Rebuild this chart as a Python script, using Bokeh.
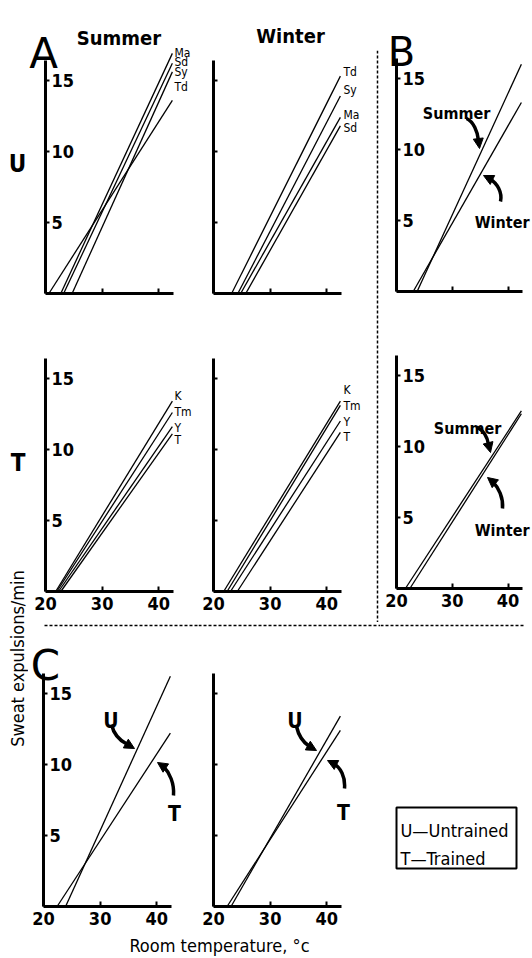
import math
from bokeh.plotting import figure
from bokeh.models import (Range1d, LinearAxis, FixedTicker, Label, LabelSet,
                          ColumnDataSource, Span, Arrow, NormalHead, BoxAnnotation)
from bokeh.layouts import row, column
from bokeh.core.properties import value
from bokeh.embed import file_html
from bokeh.resources import INLINE

# ---------------- data ----------------
x_ticks = [20, 30, 40]
y_ticks = [5, 10, 15]
X_END = 42.4

summer_u_names = ["Ma", "Sd", "Sy", "Td"]
summer_u_start = [22.7, 23.2, 24.7, 20.6]
summer_u_end = [16.9, 16.2, 15.6, 13.6]

winter_u_names = ["Td", "Sy", "Ma", "Sd"]
winter_u_start = [23.2, 24.3, 24.8, 25.7]
winter_u_end = [15.3, 13.9, 12.4, 11.8]

summer_t_names = ["K", "Tm", "Y", "T"]
summer_t_start = [21.8, 22.0, 22.3, 22.7]
summer_t_end = [13.4, 12.6, 11.6, 11.1]

winter_t_names = ["K", "Tm", "Y", "T"]
winter_t_start = [21.8, 22.4, 23.0, 24.2]
winter_t_end = [13.4, 13.1, 12.0, 11.2]

season_names = ["Summer", "Winter"]
b_u_start = [23.7, 23.0]
b_u_end = [16.0, 13.3]
b_t_start = [21.6, 22.4]
b_t_end = [12.5, 12.3]

group_names = ["U", "T"]
c_summer_start = [23.9, 22.4]
c_summer_end = [16.2, 12.2]
c_winter_start = [23.1, 22.4]
c_winter_end = [13.4, 12.4]

# name-label anchor heights (layout)
lab_su = [16.96, 16.26, 15.56, 14.5]
lab_wu = [15.56, 14.29, 12.53, 11.68]
lab_st = [13.73, 12.6, 11.54, 10.63]
lab_wt = [14.15, 13.09, 11.9, 10.84]

# ---------------- styling helpers ----------------
FONT = "'DejaVu Sans Condensed', 'Liberation Sans', sans-serif"
BIG = "DejaVu Sans"
XR = (20, 42.6)
YR = (0, 16.4)
FH = 233
SY = FH / (YR[1] - YR[0])
DASH = "3 2"


def plain_fig(w, h, bt=0):
    p = figure(width=w, height=h, x_range=Range1d(0, 1), y_range=Range1d(0, 1),
               x_axis_location=None, y_axis_location=None, toolbar_location=None,
               output_backend="svg", min_border=0, min_border_top=bt)
    p.outline_line_color = None
    p.xgrid.visible = False
    p.ygrid.visible = False
    return p


def panel(g, xlabels, ylabels):
    sx = g["fw"] / (XR[1] - XR[0])
    x0 = XR[0] - (g["fl"] - g["cl"]) / sx
    y0 = -(g["ct"] + g["h"] - g["fb"]) / SY
    p = figure(width=g["w"], height=g["h"],
               x_range=Range1d(x0, x0 + g["w"] / sx),
               y_range=Range1d(y0, y0 + g["h"] / SY),
               x_axis_location=None, y_axis_location=None, toolbar_location=None,
               output_backend="svg", min_border=0)
    p.outline_line_color = None
    p.xgrid.visible = False
    p.ygrid.visible = False
    xa = LinearAxis(fixed_location=0, bounds=XR, ticker=FixedTicker(ticks=x_ticks))
    xa.axis_line_width = 3
    xa.major_tick_in = 5
    xa.major_tick_out = 0
    xa.major_tick_line_width = 2
    xa.minor_tick_line_color = None
    xa.major_label_standoff = 5
    xa.major_label_text_font = FONT
    xa.major_label_text_font_size = "18px"
    xa.major_label_text_font_style = "bold"
    xa.major_label_text_color = "black" if xlabels else None
    p.add_layout(xa, "below")
    ya = LinearAxis(fixed_location=XR[0], bounds=YR, ticker=FixedTicker(ticks=y_ticks))
    ya.axis_line_width = 3
    ya.major_tick_in = 0
    ya.major_tick_out = 4
    ya.major_tick_line_width = 2
    ya.minor_tick_line_color = None
    ya.major_label_standoff = 2
    ya.major_label_text_font = FONT
    ya.major_label_text_font_size = "18px"
    ya.major_label_text_font_style = "bold"
    ya.major_label_text_color = "black" if ylabels else None
    p.add_layout(ya, "right")
    return p


def to_data(g, px, py):
    sx = g["fw"] / (XR[1] - XR[0])
    return XR[0] + (px - g["fl"]) / sx, (g["fb"] - py) / SY


def add_lines(p, starts, ends):
    n = len(starts)
    src = ColumnDataSource(dict(x0=starts, y0=[0] * n, x1=[X_END] * n, y1=ends))
    p.segment(x0="x0", y0="y0", x1="x1", y1="y1", source=src,
              line_color="black", line_width=1.3)


def add_names(p, names, ys, xoff):
    src = ColumnDataSource(dict(x=[XR[1]] * len(names), y=ys, t=names))
    p.add_layout(LabelSet(x="x", y="y", text="t", source=src, x_offset=xoff,
                          text_font=value(FONT), text_font_size=value("12px"),
                          text_align="left", text_baseline="middle",
                          text_color=value("black")))


def lab(p, g, text, px, py, size, align="center", font=FONT, style="bold"):
    x, y = to_data(g, px, py)
    p.add_layout(Label(x=x, y=y, text=text, text_font=font, text_font_size=size,
                       text_font_style=style, text_align=align,
                       text_baseline="alphabetic", text_color="black"))


def slab(p, cl, cb, text, px, py, size, align="center", style="normal", angle=0,
         baseline="alphabetic"):
    p.add_layout(Label(x=px - cl, y=cb - py, x_units="screen", y_units="screen",
                       text=text, text_font=FONT, text_font_size=size,
                       text_font_style=style, text_align=align,
                       text_baseline=baseline, angle=angle, text_color="black"))


def curved_arrow(p, g, pts, tip):
    (x0, y0), (a0, b0), (a1, b1), (x1, y1) = [to_data(g, q[0], q[1]) for q in pts]
    tx, ty = to_data(g, tip[0], tip[1])
    p.bezier(x0=[x0], y0=[y0], x1=[x1], y1=[y1], cx0=[a0], cy0=[b0], cx1=[a1], cy1=[b1],
             line_color="black", line_width=3.5)
    p.add_layout(Arrow(x_start=x1, y_start=y1, x_end=tx, y_end=ty, line_width=3.5,
                       line_color="black",
                       end=NormalHead(size=10, fill_color="black", line_color="black",
                                      line_width=1)))


def hdash(p, g, px0, px1, py):
    xa, ya = to_data(g, px0, py)
    xb, _ = to_data(g, px1, py)
    p.segment(x0=[xa], y0=[ya], x1=[xb], y1=[ya], line_color="black",
              line_width=1.5, line_dash=DASH)


def geom(cl, ct, w, h, fl, fb, fw=128):
    return dict(cl=cl, ct=ct, w=w, h=h, fl=fl, fb=fb, fw=fw)


# ---------------- panels (page-pixel layout, origin at top-left) ----------------
gA_s = geom(28, 0, 170, 303, 45, 293)
gA_w = geom(198, 0, 177, 303, 213, 293)
gT_s = geom(28, 303, 170, 319, 45, 591)
gT_w = geom(198, 303, 177, 319, 213, 591)
gB_t = geom(379, 0, 153, 303, 396, 291, 126)
gB_b = geom(379, 303, 153, 319, 396, 588, 126)
gC_s = geom(28, 622, 170, 306, 43, 906)
gC_w = geom(198, 622, 182, 306, 213, 906)

A_sU = panel(gA_s, False, True)
add_lines(A_sU, summer_u_start, summer_u_end)
add_names(A_sU, summer_u_names, lab_su, 1)
lab(A_sU, gA_s, "A", 43, 53, "42px", font=BIG, style="normal")
lab(A_sU, gA_s, "Summer", 118.5, 37, "20px")

A_wU = panel(gA_w, False, False)
add_lines(A_wU, winter_u_start, winter_u_end)
add_names(A_wU, winter_u_names, lab_wu, 2)
lab(A_wU, gA_w, "Winter", 290, 35, "20px")

T_s = panel(gT_s, True, True)
add_lines(T_s, summer_t_start, summer_t_end)
add_names(T_s, summer_t_names, lab_st, 1)

T_w = panel(gT_w, True, False)
add_lines(T_w, winter_t_start, winter_t_end)
add_names(T_w, winter_t_names, lab_wt, 2)

B_top = panel(gB_t, False, True)
add_lines(B_top, b_u_start, b_u_end)
lab(B_top, gB_t, "B", 401, 51, "40px", font=BIG, style="normal")
lab(B_top, gB_t, season_names[0], 456, 113, "16px")
lab(B_top, gB_t, season_names[1], 529, 222, "16px", align="right")
curved_arrow(B_top, gB_t, [(466, 118), (473, 121), (477, 131), (478, 140)], (479, 148))
curved_arrow(B_top, gB_t, [(500, 201), (502, 192), (497, 183), (489, 178)], (483, 175))

B_bot = panel(gB_b, True, True)
add_lines(B_bot, b_t_start, b_t_end)
lab(B_bot, gB_b, season_names[0], 467, 428, "16px")
lab(B_bot, gB_b, season_names[1], 529, 530, "16px", align="right")
curved_arrow(B_bot, gB_b, [(476, 427), (483, 429), (487, 437), (488, 444)], (490, 452))
curved_arrow(B_bot, gB_b, [(502, 508), (503, 497), (498, 487), (492, 481)], (487, 477))

C1 = panel(gC_s, True, True)
add_lines(C1, c_summer_start, c_summer_end)
hdash(C1, gC_s, 44, 198, 625)
lab(C1, gC_s, "C", 45, 665, "42px", font=BIG, style="normal")
lab(C1, gC_s, group_names[0], 110.5, 720, "21px")
lab(C1, gC_s, group_names[1], 174, 813, "21px")
curved_arrow(C1, gC_s, [(111, 724), (113, 733), (119, 740), (127, 744)], (134, 748))
curved_arrow(C1, gC_s, [(173, 795), (174, 783), (169, 772), (163, 766)], (157, 762))

C2 = panel(gC_w, True, False)
add_lines(C2, c_winter_start, c_winter_end)
hdash(C2, gC_w, 198, 380, 625)
lab(C2, gC_w, group_names[0], 294.5, 720, "21px")
lab(C2, gC_w, group_names[1], 343, 812, "21px")
curved_arrow(C2, gC_w, [(296, 726), (298, 735), (303, 742), (309, 746)], (316, 750))
curved_arrow(C2, gC_w, [(344, 788), (345, 776), (340, 767), (333, 763)], (327, 760))

# legend box (canvas 380..532 x 622..928)
leg = plain_fig(152, 306)
leg.segment(x0=[0], y0=[(928 - 625) / 306], x1=[(525 - 380) / 152], y1=[(928 - 625) / 306],
            line_color="black", line_width=1.5, line_dash=DASH)
leg.add_layout(BoxAnnotation(left=16, right=136, bottom=60, top=121,
                             left_units="screen", right_units="screen",
                             bottom_units="screen", top_units="screen",
                             fill_color=None, fill_alpha=0, line_color="black",
                             line_alpha=1.0, line_width=2))
slab(leg, 380, 928, "U\u2014Untrained", 400, 830, "18px", align="left")
slab(leg, 380, 928, "T\u2014Trained", 400, 858, "18px", align="left")

# vertical separator (canvas 375..379 x 0..622, dashed from y=50)
vline = plain_fig(4, 622, bt=50)
vline.add_layout(Span(location=0.5, dimension="height", line_color="black",
                      line_width=1.5, line_dash=DASH))

# left strip: row labels and y axis title (canvas 0..28 x 0..957)
strip = plain_fig(28, 957)
slab(strip, 0, 957, "U", 17, 163, "24px", style="bold")
slab(strip, 0, 957, "T", 17.5, 462, "24px", style="bold")
slab(strip, 0, 957, "Sweat expulsions/min", 17, 658, "18px", angle=math.pi / 2,
     baseline="middle")

# bottom strip: x axis title (canvas 28..532 x 928..957)
xlab = plain_fig(504, 29)
slab(xlab, 28, 957, "Room temperature, \u00b0c", 219, 945, "18px")

top_block = row(column(row(A_sU, A_wU), row(T_s, T_w)), vline, column(B_top, B_bot))
main = column(top_block, row(C1, C2, leg), xlab)
layout = row(strip, main)

open("out.html", "w").write(file_html(layout, INLINE))
